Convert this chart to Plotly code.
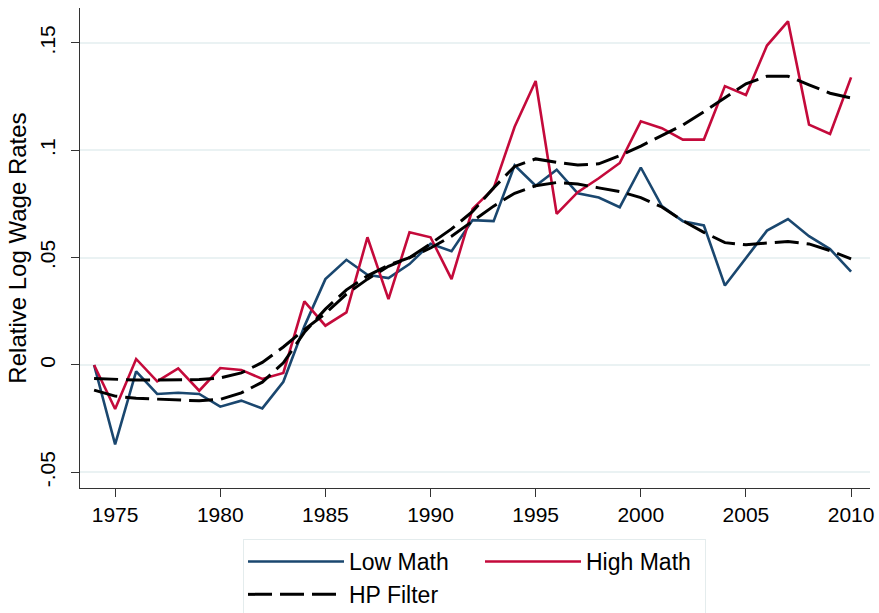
import plotly.graph_objects as go

years = list(range(1974, 2011))

low_math = [0.0, -0.037, -0.003, -0.0135, -0.0129, -0.0135, -0.0194, -0.0166, -0.0202, -0.0078,
            0.018, 0.040, 0.049, 0.042, 0.0405, 0.047, 0.0565, 0.053, 0.0675, 0.067,
            0.093, 0.0835, 0.091, 0.080, 0.078, 0.0735, 0.092, 0.074, 0.067, 0.065,
            0.037, 0.0497, 0.0626, 0.068, 0.060, 0.054, 0.0435]

high_math = [0.0, -0.0205, 0.0028, -0.0076, -0.0016, -0.012, -0.0014, -0.0023, -0.0065, -0.0037,
             0.0296, 0.0183, 0.0245, 0.0595, 0.0307, 0.0618, 0.0595, 0.040, 0.0727, 0.0823,
             0.111, 0.1323, 0.0704, 0.0805, 0.087, 0.0941, 0.1135, 0.1103, 0.105, 0.105,
             0.1299, 0.1258, 0.1488, 0.1601, 0.112, 0.1076, 0.134]

hp_low = [-0.0117, -0.0145, -0.0155, -0.016, -0.0165, -0.0167, -0.016, -0.013, -0.008, 0.001,
          0.0152, 0.026, 0.035, 0.0415, 0.0465, 0.050, 0.0545, 0.060, 0.067, 0.074,
          0.080, 0.0835, 0.085, 0.0843, 0.0825, 0.0808, 0.078, 0.0736, 0.0672, 0.0618,
          0.057, 0.056, 0.0568, 0.0575, 0.0564, 0.0533, 0.0494]

hp_high = [-0.0063, -0.0068, -0.007, -0.007, -0.007, -0.0068, -0.006, -0.0037, 0.0012, 0.0084,
           0.0165, 0.024, 0.033, 0.040, 0.046, 0.050, 0.0565, 0.0634, 0.0715, 0.0825,
           0.0925, 0.096, 0.0944, 0.0932, 0.0937, 0.0975, 0.102, 0.1069, 0.1118, 0.118,
           0.1247, 0.131, 0.1345, 0.1345, 0.1305, 0.1266, 0.1244]

x_ticks = [1975, 1980, 1985, 1990, 1995, 2000, 2005, 2010]
y_ticks = [-0.05, 0, 0.05, 0.1, 0.15]
y_ticktext = ["-.05", "0", ".05", ".1", ".15"]

FONT = "Liberation Sans, Arial, Helvetica, sans-serif"
BLUE = "#1a476f"
RED = "#c40a3b"
DASH = "24px,8px"

fig = go.Figure()
fig.add_trace(go.Scatter(x=years, y=low_math, mode="lines", name="Low Math",
                         legendgroup="g1", line=dict(color=BLUE, width=2.6)))
fig.add_trace(go.Scatter(x=years, y=high_math, mode="lines", name="High Math",
                         legendgroup="g2", legendwidth=114, line=dict(color=RED, width=2.6)))
fig.add_trace(go.Scatter(x=years, y=hp_low, mode="lines", name="HP Filter",
                         legendgroup="g1", line=dict(color="black", width=3, dash=DASH)))
fig.add_trace(go.Scatter(x=years, y=hp_high, mode="lines", name="HP Filter",
                         showlegend=False, line=dict(color="black", width=3, dash=DASH)))

fig.update_layout(
    width=879, height=613,
    margin=dict(l=80, r=9, t=8, b=125),
    plot_bgcolor="white", paper_bgcolor="white",
    font=dict(family=FONT, color="black"),
    legend=dict(
        orientation="h", traceorder="grouped",
        xref="container", yref="container",
        x=243 / 879, xanchor="left", y=1 - 539 / 613, yanchor="top",
        bordercolor="#e4eced", borderwidth=1,
        font=dict(size=23, family=FONT),
        entrywidth=126, itemwidth=96,
    ),
)
fig.update_xaxes(
    range=[1973.33, 2010.9], tickvals=x_ticks,
    ticks="outside", ticklen=8, tickcolor="#333", tickwidth=1.2,
    showline=True, linecolor="#333", linewidth=1.2,
    showgrid=False, zeroline=False, automargin=False,
    tickfont=dict(size=21, family=FONT),
)
fig.update_yaxes(
    range=[-0.0573, 0.1663], tickvals=y_ticks, ticktext=y_ticktext, tickangle=-90,
    ticks="outside", ticklen=8, tickcolor="#333", tickwidth=1.2,
    showline=True, linecolor="#333", linewidth=1.2,
    showgrid=True, gridcolor="#eaf2f3", gridwidth=1.8, zeroline=False,
    tickfont=dict(size=21, family=FONT), ticklabelstandoff=8,
    title=dict(text="Relative Log Wage Rates", font=dict(size=24, family=FONT), standoff=2),
    automargin=False,
)

fig.write_html("out.html", config={"displayModeBar": False},
               post_script="document.body.style.margin='0';")
